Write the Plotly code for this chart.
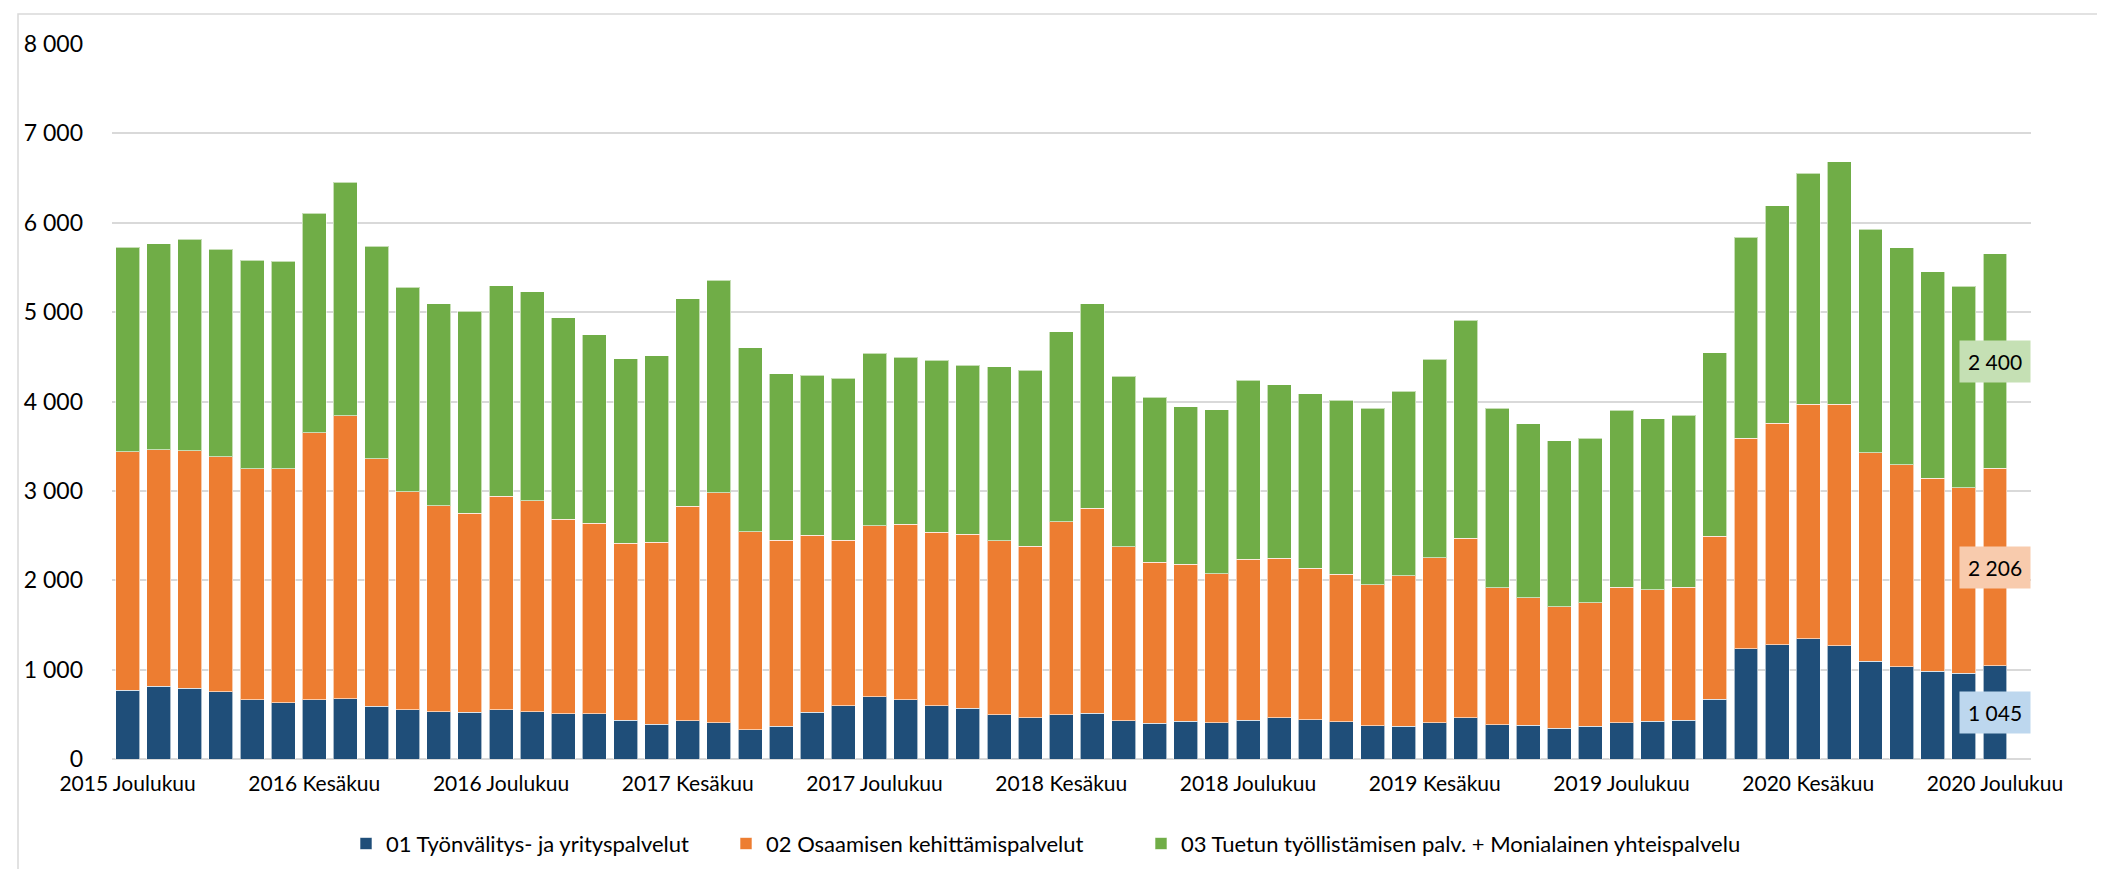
import plotly.graph_objects as go

# kuukaudet 2015 joulukuu ... 2020 joulukuu
kuukaudet = ["Tammikuu", "Helmikuu", "Maaliskuu", "Huhtikuu", "Toukokuu", "Kesäkuu",
             "Heinäkuu", "Elokuu", "Syyskuu", "Lokakuu", "Marraskuu", "Joulukuu"]
categories = ["2015 Joulukuu"] + [f"{y} {m}" for y in range(2016, 2021) for m in kuukaudet]

tyonvalitys = [772, 816, 794, 750, 664, 631, 664, 672, 590, 553, 531, 523, 549, 531, 508, 508,
               434, 390, 428, 408, 330, 364, 523, 597, 698, 664, 597, 568, 497, 460, 497, 512,
               430, 401, 423, 408, 434, 464, 442, 419, 371, 364, 408, 460, 386, 378, 345, 364,
               408, 423, 434, 668, 1236, 1276, 1343, 1265, 1091, 1032, 983, 961, 1045]
osaaminen = [2668, 2646, 2657, 2630, 2586, 2619, 2987, 3168, 2772, 2438, 2300, 2227, 2390, 2360,
             2175, 2130, 1982, 2037, 2399, 2572, 2215, 2085, 1978, 1848, 1910, 1963, 1941, 1944,
             1945, 1918, 2160, 2293, 1945, 1803, 1755, 1666, 1803, 1785, 1692, 1648, 1577, 1688,
             1844, 2011, 1529, 1429, 1358, 1384, 1514, 1469, 1488, 1826, 2352, 2479, 2628, 2706,
             2338, 2263, 2160, 2074, 2206]
tuettu = [2287, 2302, 2365, 2321, 2329, 2318, 2455, 2615, 2376, 2287, 2265, 2261, 2358, 2335,
          2254, 2109, 2060, 2086, 2325, 2376, 2058, 1861, 1794, 1817, 1932, 1868, 1923, 1894,
          1949, 1972, 2124, 2291, 1908, 1845, 1763, 1834, 2001, 1941, 1952, 1948, 1974, 2064,
          2220, 2439, 2007, 1945, 1859, 1840, 1982, 1916, 1927, 2053, 2251, 2437, 2585, 2711,
          2496, 2426, 2307, 2257, 2400]

series = [
    ("01 Työnvälitys- ja yrityspalvelut", tyonvalitys, "#1F4E79", "#BDD7EE"),
    ("02 Osaamisen kehittämispalvelut", osaaminen, "#ED7D31", "#F8CBAD"),
    ("03 Tuetun työllistämisen palv. + Monialainen yhteispalvelu", tuettu, "#70AD47", "#C5E0B4"),
]

FONT = "Lato, Carlito, Calibri, sans-serif"
pw, ph = 1919, 717
legend_left_px = [338, 718, 1133]
legend_ids = ["legend", "legend2", "legend3"]

fig = go.Figure()
for (name, values, color, _), lid in zip(series, legend_ids):
    fig.add_trace(go.Bar(x=categories, y=values, name=name, legend=lid,
                         marker=dict(color=color, line=dict(color="rgba(255,255,255,0.6)", width=1))))

# arvolaatikot viimeisen palkin segmenttien keskelle
base = 0
for name, values, color, light in series:
    v = values[-1]
    fig.add_annotation(x=categories[-1], y=base + v / 2, text=f"{v:,}".replace(",", " "),
                       showarrow=False, bgcolor=light, borderpad=8,
                       font=dict(family=FONT, size=21, color="#000000"))
    base += v

tick_vals = categories[::6]

legends = {}
for lid, left in zip(legend_ids, legend_left_px):
    legends[lid] = dict(orientation="h", x=(left - 104) / pw, xanchor="left", y=-0.1185,
                        yanchor="middle", font=dict(size=22), itemwidth=30,
                        bgcolor="rgba(0,0,0,0)")

fig.update_layout(
    width=2105, height=869,
    barmode="stack", bargap=0.23,
    plot_bgcolor="white", paper_bgcolor="white",
    separators=", ",
    font=dict(family=FONT, size=21, color="#000000"),
    margin=dict(l=104, r=82, t=36, b=116),
    showlegend=True,
    **legends,
)
fig.update_xaxes(type="category", tickmode="array", tickvals=tick_vals, ticktext=tick_vals,
                 tickangle=0, showgrid=False, ticks="", showline=False,
                 tickfont=dict(size=21), ticklabelstandoff=10)
fig.update_yaxes(range=[0, 8000], dtick=1000, tickformat=",d", showgrid=True,
                 gridcolor="#D9D9D9", gridwidth=1.5, zeroline=True, zerolinecolor="#D9D9D9",
                 zerolinewidth=1.5, ticks="", tickfont=dict(size=23), ticklabelstandoff=28)

# kehys koko kaavion ympärille
fig.add_shape(type="rect", xref="paper", yref="paper",
              x0=(10 - 104) / pw, x1=(2103 - 104) / pw, y0=(753 - 875) / ph, y1=(753 - 6) / ph,
              line=dict(color="#D9D9D9", width=1.5), fillcolor="rgba(0,0,0,0)", layer="below")

fig.write_html("out.html")
